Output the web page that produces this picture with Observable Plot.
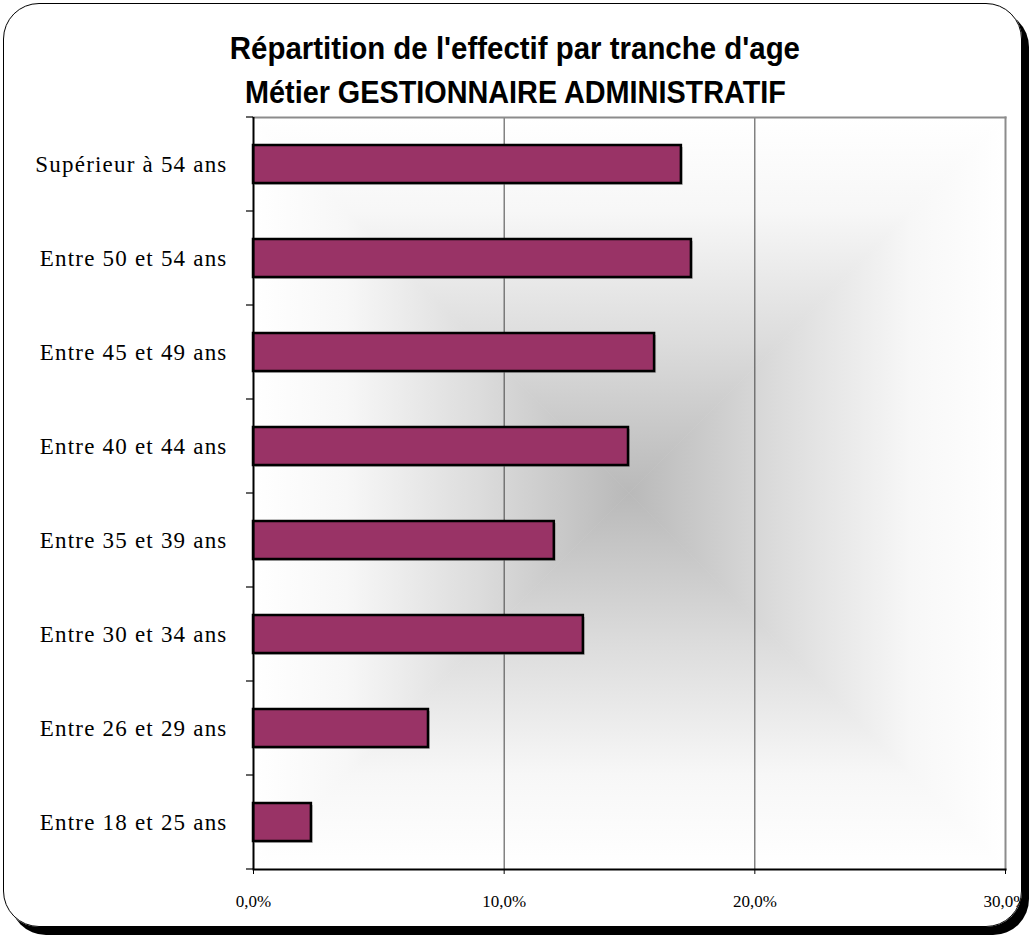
<!DOCTYPE html>
<html>
<head>
<meta charset="utf-8">
<script src="https://cdn.jsdelivr.net/npm/d3@7"></script>
<script src="https://cdn.jsdelivr.net/npm/@observablehq/plot@0.6"></script>
<style>
  html, body { margin: 0; padding: 0; background: #fff; }
  #wrap { position: relative; width: 1030px; height: 938px; overflow: hidden; background: #fff; }
  #chart { position: absolute; left: 0; top: 0; }
  #title { position: absolute; left: 0; top: 26px; width: 1030px; text-align: center;
    font-family: "Liberation Sans", Arial, sans-serif; font-weight: bold; font-size: 32px;
    line-height: 44px; color: #000; }
  #title span { display: inline-block; transform: scaleX(0.92); white-space: nowrap; }
  #title span.l2 { transform: scaleX(0.9); }
  #card { position: absolute; left: 3px; top: 3px; width: 1017px; height: 922px;
    border: 1.5px solid #000; border-radius: 36px; box-shadow: 7px 8px 0 #000; pointer-events: none; }
  #chart g[aria-label="y-axis tick label"] text { letter-spacing: 1.2px; }
</style>
</head>
<body>
<div id="wrap">
  <div id="chart"></div>
  <div id="title"><span>Répartition de l'effectif par tranche d'age</span><br><span class="l2">Métier GESTIONNAIRE ADMINISTRATIF</span></div>
  <div id="card"></div>
</div>
<script>
const categories = [
  "Supérieur à 54 ans",
  "Entre 50 et 54 ans",
  "Entre 45 et 49 ans",
  "Entre 40 et 44 ans",
  "Entre 35 et 39 ans",
  "Entre 30 et 34 ans",
  "Entre 26 et 29 ans",
  "Entre 18 et 25 ans"
];
const values = [17.07, 17.47, 16.0, 14.96, 12.0, 13.16, 6.98, 2.31];
const xTicks = [0, 10, 20, 30];

const data = categories.map((c, i) => ({cat: c, value: values[i]}));
const frFmt = d => d.toFixed(1).replace(".", ",") + "%";

// Box ("from centre") gradient background
function background(index, scales, vals, dim) {
  const ns = "http://www.w3.org/2000/svg";
  const g = document.createElementNS(ns, "g");
  const x0 = dim.marginLeft, x1 = dim.width - dim.marginRight;
  const y0 = dim.marginTop, y1 = dim.height - dim.marginBottom;
  const cx = (x0 + x1) / 2, cy = (y0 + y1) / 2;
  const defs = document.createElementNS(ns, "defs");
  const mk = (id, ax1, ay1, ax2, ay2) => {
    const lg = document.createElementNS(ns, "linearGradient");
    lg.setAttribute("id", id);
    lg.setAttribute("gradientUnits", "userSpaceOnUse");
    lg.setAttribute("x1", ax1); lg.setAttribute("y1", ay1);
    lg.setAttribute("x2", ax2); lg.setAttribute("y2", ay2);
    [[0, "#ffffff"], [0.25, "#f7f7f7"], [0.6, "#dcdcdc"], [1, "#b9b9b9"]].forEach(([o, c]) => {
      const s = document.createElementNS(ns, "stop");
      s.setAttribute("offset", o); s.setAttribute("stop-color", c);
      lg.appendChild(s);
    });
    defs.appendChild(lg);
  };
  mk("gT", cx, y0, cx, cy);
  mk("gB", cx, y1, cx, cy);
  mk("gL", x0, cy, cx, cy);
  mk("gR", x1, cy, cx, cy);
  g.appendChild(defs);
  const tri = (pts, id) => {
    const p = document.createElementNS(ns, "polygon");
    p.setAttribute("points", pts.map(d => d.join(",")).join(" "));
    p.setAttribute("fill", `url(#${id})`);
    p.setAttribute("stroke", `url(#${id})`);
    p.setAttribute("stroke-width", "0.6");
    g.appendChild(p);
  };
  tri([[x0, y0], [x1, y0], [cx, cy]], "gT");
  tri([[x0, y1], [x1, y1], [cx, cy]], "gB");
  tri([[x0, y0], [x0, y1], [cx, cy]], "gL");
  tri([[x1, y0], [x1, y1], [cx, cy]], "gR");
  return g;
}

// ticks on the category axis at band boundaries
function bandTicks(index, scales, vals, dim) {
  const ns = "http://www.w3.org/2000/svg";
  const g = document.createElementNS(ns, "g");
  const y0 = dim.marginTop, y1 = dim.height - dim.marginBottom;
  const n = categories.length;
  const step = (y1 - y0) / n;
  for (let i = 0; i <= n; i++) {
    const l = document.createElementNS(ns, "line");
    const y = y0 + i * step;
    l.setAttribute("x1", dim.marginLeft - 7);
    l.setAttribute("x2", dim.marginLeft);
    l.setAttribute("y1", y); l.setAttribute("y2", y);
    l.setAttribute("stroke", "#000");
    l.setAttribute("stroke-width", "1.2");
    g.appendChild(l);
  }
  return g;
}

const chart = Plot.plot({
  width: 1030,
  height: 938,
  marginLeft: 253,
  marginRight: 25,
  marginTop: 117,
  marginBottom: 69,
  style: {background: "transparent", overflow: "visible"},
  x: {domain: [0, 30]},
  y: {domain: categories, paddingInner: 0.6, paddingOuter: 0.3, label: null},
  marks: [
    background,
    Plot.gridX(xTicks.slice(1), {stroke: "#444", strokeOpacity: 1, strokeWidth: 1}),
    Plot.frame({anchor: "top", stroke: "#8c8c8c", strokeWidth: 2}),
    Plot.frame({anchor: "right", stroke: "#8c8c8c", strokeWidth: 2}),
    Plot.barX(data, {x: "value", y: "cat", fill: "#777", fillOpacity: 0.45, dx: 2, dy: 2}),
    Plot.barX(data, {x: "value", y: "cat", fill: "#993366", stroke: "#000", strokeWidth: 2.5}),
    Plot.ruleX([0], {stroke: "#000", strokeWidth: 2}),
    Plot.frame({anchor: "bottom", stroke: "#000", strokeWidth: 2}),
    bandTicks,
    Plot.axisY({tickSize: 0, tickPadding: 26, fontSize: 23, fontFamily: "Liberation Serif, Times New Roman, serif", label: null, fill: "#000"}),
    Plot.axisX({ticks: xTicks, tickFormat: frFmt, tickSize: 5, tickPadding: 20, fontSize: 17, fontFamily: "Liberation Serif, Times New Roman, serif", label: null, stroke: "#000", fill: "#000"})
  ]
});
document.getElementById("chart").appendChild(chart);
</script>
</body>
</html>
